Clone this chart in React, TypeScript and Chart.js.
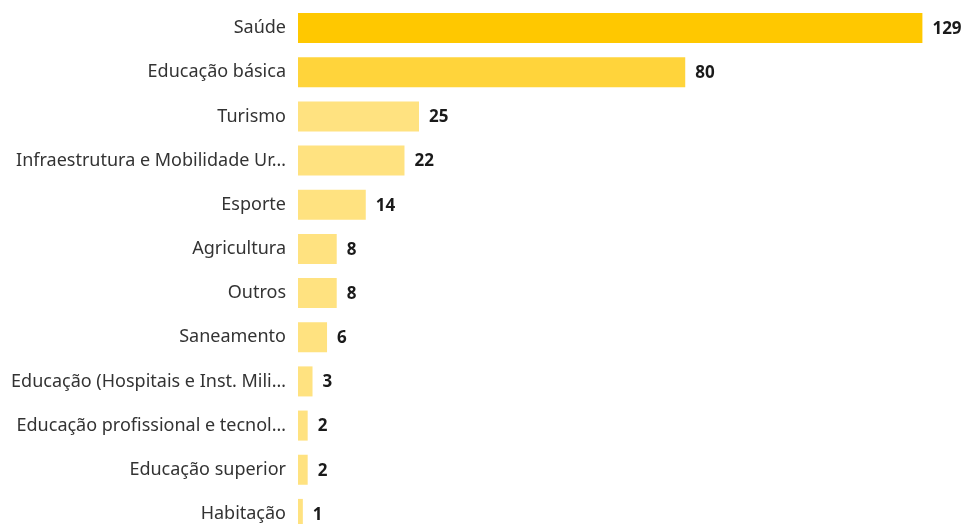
import React, { useEffect, useRef } from "react";
import { Chart, registerables } from "chart.js";

Chart.register(...registerables);

const categories = [
  "Saúde",
  "Educação básica",
  "Turismo",
  "Infraestrutura e Mobilidade Ur…",
  "Esporte",
  "Agricultura",
  "Outros",
  "Saneamento",
  "Educação (Hospitais e Inst. Mili…",
  "Educação profissional e tecnol…",
  "Educação superior",
  "Habitação",
];
const values = [129, 80, 25, 22, 14, 8, 8, 6, 3, 2, 2, 1];
const barColors = [
  "#FFC800",
  "#FFD43B",
  "#FFE280",
  "#FFE280",
  "#FFE280",
  "#FFE280",
  "#FFE280",
  "#FFE280",
  "#FFE280",
  "#FFE280",
  "#FFE280",
  "#FFE280",
];
const xMax = 137.8;

const valueLabels = {
  id: "valueLabels",
  afterDatasetsDraw(chart: any) {
    const ctx = chart.ctx;
    const meta = chart.getDatasetMeta(0);
    ctx.save();
    ctx.font = "bold 17px 'Noto Sans', 'Open Sans', sans-serif";
    ctx.fillStyle = "#1a1a1a";
    ctx.textAlign = "left";
    ctx.textBaseline = "middle";
    meta.data.forEach((bar: any, i: number) => {
      ctx.fillText(String(values[i]), bar.x + 10, bar.y + 1);
    });
    ctx.restore();
  },
};

export default function App() {
  const ref = useRef<HTMLCanvasElement | null>(null);
  useEffect(() => {
    if (!ref.current) return;
    const chart = new Chart(ref.current, {
      type: "bar",
      data: {
        labels: categories,
        datasets: [
          {
            data: values,
            backgroundColor: barColors,
            barPercentage: 0.68,
            categoryPercentage: 1,
          },
        ],
      },
      options: {
        indexAxis: "y",
        animation: false,
        responsive: false,
        maintainAspectRatio: false,
        layout: { padding: { top: 6, bottom: 0, left: 0, right: 0 } },
        plugins: {
          legend: { display: false },
          tooltip: { enabled: false },
        },
        scales: {
          x: {
            display: false,
            min: 0,
            max: xMax,
          },
          y: {
            grid: { display: false, drawTicks: false },
            border: { display: false },
            ticks: {
              color: "#333333",
              padding: 12,
              font: { family: "'Noto Sans', 'Open Sans', sans-serif", size: 18 },
            },
            afterFit(scale: any) {
              scale.width = 298;
              scale.paddingTop = 0;
              scale.paddingBottom = 0;
            },
          },
        },
      },
      plugins: [valueLabels],
    });
    return () => chart.destroy();
  }, []);
  return (
    <div
      style={{
        position: "absolute",
        left: 0,
        top: 0,
        width: 965,
        height: 524,
        overflow: "hidden",
        background: "#fff",
      }}
    >
      <canvas ref={ref} width={965} height={536} style={{ display: "block" }} />
    </div>
  );
}
